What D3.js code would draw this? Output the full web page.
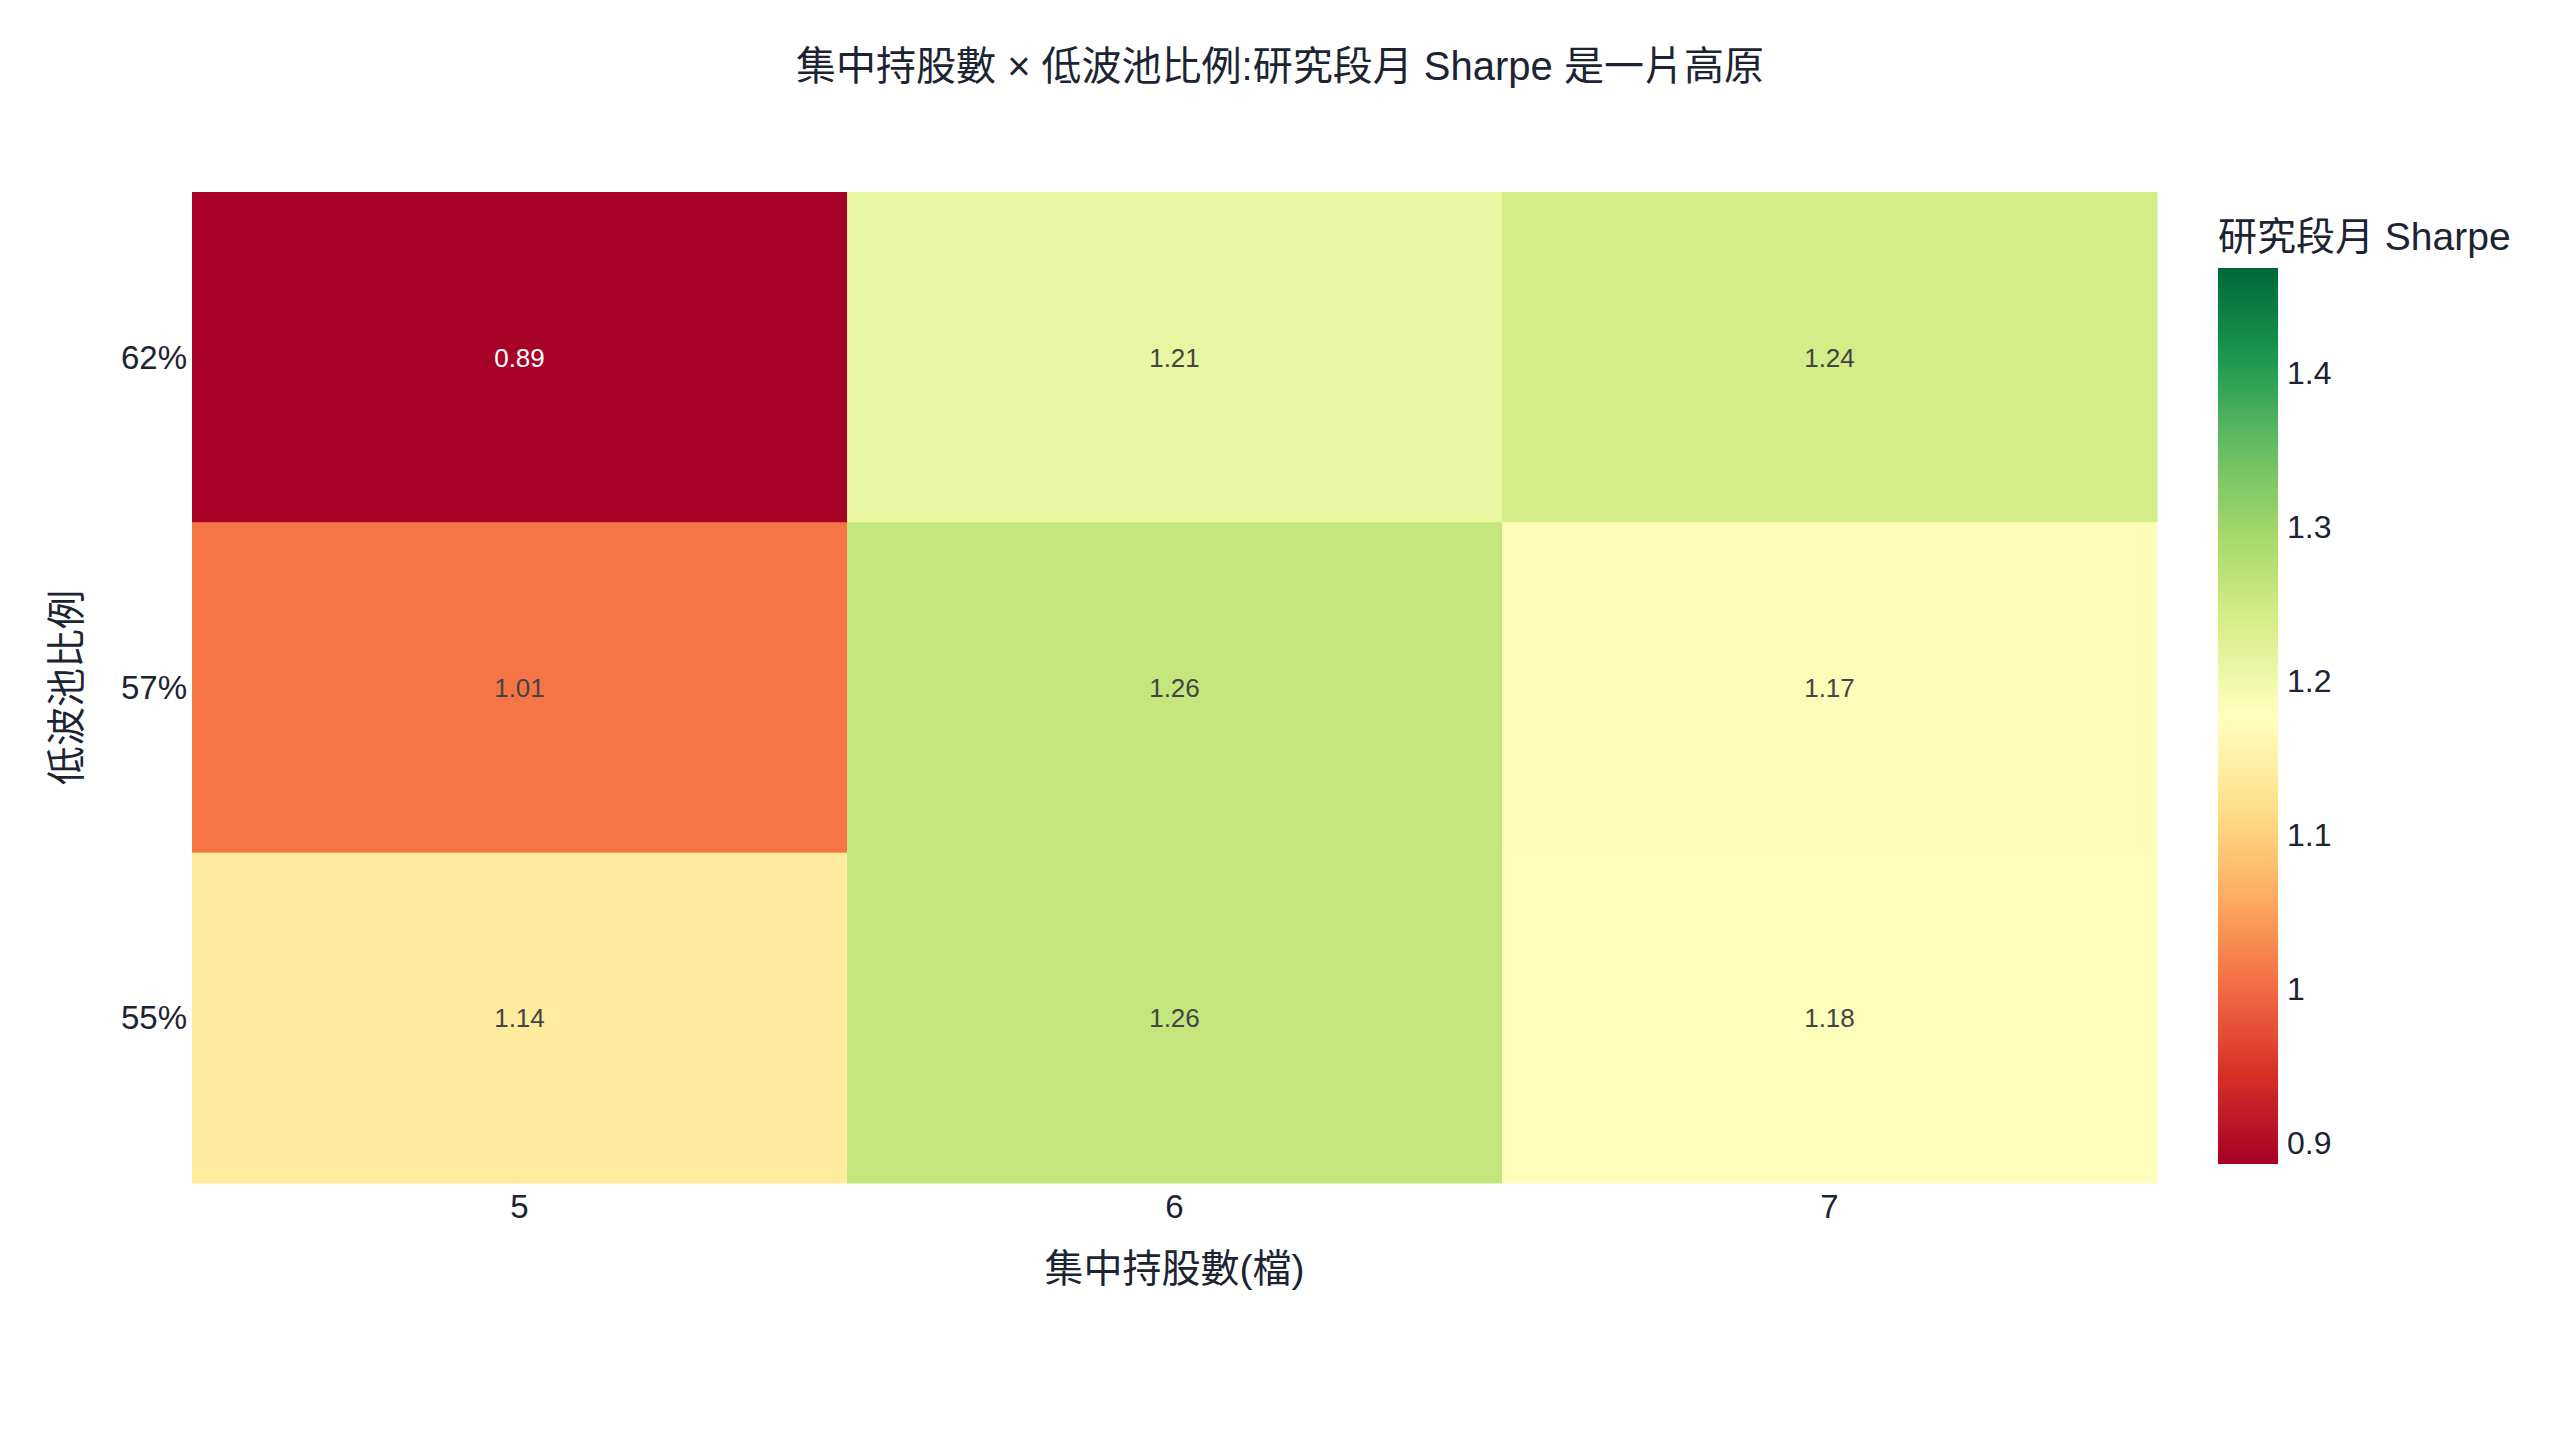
<!DOCTYPE html>
<html>
<head>
<meta charset="utf-8">
<script src="https://cdn.jsdelivr.net/npm/d3@7"></script>
<style>
  body { margin: 0; background: #fff; }
  text { font-family: "Liberation Sans", "Noto Sans CJK TC", sans-serif; }
</style>
</head>
<body>
<div id="chart"></div>
<script>
// data
var holdings = ["5", "6", "7"];
var lowVolRatios = ["62%", "57%", "55%"];
var sharpe62 = [0.89, 1.21, 1.24];
var sharpe57 = [1.01, 1.26, 1.17];
var sharpe55 = [1.14, 1.26, 1.18];
var colorTicks = [0.9, 1, 1.1, 1.2, 1.3, 1.4];
var colorRange = [0.886, 1.468];

var svgWidth = 2560;
var svgHeight = 1440;
var margin = { top: 192, right: 403, bottom: 257, left: 192 };
var width = svgWidth - margin.left - margin.right;
var height = svgHeight - margin.top - margin.bottom;
var ink = "#1c2433";

var svg = d3.select("#chart")
  .append("svg")
  .attr("width", svgWidth)
  .attr("height", svgHeight);

var chartGroup = svg.append("g")
  .attr("transform", `translate(${margin.left}, ${margin.top})`);

// build cells from the rows
var rows = [sharpe62, sharpe57, sharpe55];
var cells = [];
rows.forEach((vals, i) => {
  vals.forEach((v, j) => {
    cells.push({ row: lowVolRatios[i], col: holdings[j], value: v });
  });
});

// RdYlGn scale like plotly's
var rdylgn = ["#a50026", "#d73027", "#f46d43", "#fdae61", "#fee08b", "#ffffbf",
  "#d9ef8b", "#a6d96a", "#66bd63", "#1a9850", "#006837"];
var color = d3.scaleLinear()
  .domain(rdylgn.map((c, i) => colorRange[0] + (colorRange[1] - colorRange[0]) * i / 10))
  .range(rdylgn)
  .interpolate(d3.interpolateRgb)
  .clamp(true);

var xScale = d3.scaleBand().domain(holdings).range([0, width]).padding(0);
var yScale = d3.scaleBand().domain(lowVolRatios).range([0, height]).padding(0);

chartGroup.selectAll("rect.cell")
  .data(cells)
  .enter()
  .append("rect")
  .attr("class", "cell")
  .attr("x", d => xScale(d.col))
  .attr("y", d => yScale(d.row))
  .attr("width", xScale.bandwidth() + 0.5)
  .attr("height", yScale.bandwidth() + 0.5)
  .attr("fill", d => color(d.value));

chartGroup.selectAll("text.cellLabel")
  .data(cells)
  .enter()
  .append("text")
  .attr("class", "cellLabel")
  .attr("x", d => xScale(d.col) + xScale.bandwidth() / 2)
  .attr("y", d => yScale(d.row) + yScale.bandwidth() / 2)
  .attr("dy", "0.36em")
  .attr("text-anchor", "middle")
  .style("font-size", "26px")
  .style("fill", d => d3.hsl(color(d.value)).l < 0.45 ? "#ffffff" : "#444444")
  .text(d => d.value.toFixed(2));

// axes
var xAxis = d3.axisBottom(xScale).tickSize(0).tickPadding(12);
var yAxis = d3.axisLeft(yScale).tickSize(0).tickPadding(5);

var xg = chartGroup.append("g")
  .attr("transform", `translate(0, ${height})`)
  .call(xAxis);
xg.select(".domain").remove();
xg.selectAll("text")
  .style("font-size", "33px")
  .style("fill", ink)
  .attr("dy", "0.71em");

var yg = chartGroup.append("g").call(yAxis);
yg.select(".domain").remove();
yg.selectAll("text")
  .style("font-size", "33px")
  .style("fill", ink)
  .attr("dy", "0.35em");

// axis titles
chartGroup.append("text")
  .attr("x", width / 2)
  .attr("y", height + 99)
  .attr("text-anchor", "middle")
  .style("font-size", "39px")
  .style("fill", ink)
  .text("集中持股數(檔)");

chartGroup.append("text")
  .attr("transform", "rotate(-90)")
  .attr("x", -height / 2)
  .attr("y", -126)
  .attr("dy", "0.35em")
  .attr("text-anchor", "middle")
  .style("font-size", "39px")
  .style("fill", ink)
  .text("低波池比例");

// title
svg.append("text")
  .attr("x", svgWidth / 2)
  .attr("y", 80)
  .attr("text-anchor", "middle")
  .style("font-size", "40px")
  .style("fill", ink)
  .text("集中持股數 × 低波池比例:研究段月 Sharpe 是一片高原");

// colorbar
var cbX = 2218, cbTop = 268, cbBottom = 1164, cbWidth = 60;
var cbScale = d3.scaleLinear().domain(colorRange).range([cbBottom, cbTop]);

var grad = svg.append("defs").append("linearGradient")
  .attr("id", "cbGrad")
  .attr("x1", "0").attr("y1", "1")
  .attr("x2", "0").attr("y2", "0");
d3.range(0, 1.0001, 0.02).forEach(t => {
  grad.append("stop")
    .attr("offset", t)
    .attr("stop-color", color(colorRange[0] + t * (colorRange[1] - colorRange[0])));
});

svg.append("rect")
  .attr("x", cbX)
  .attr("y", cbTop)
  .attr("width", cbWidth)
  .attr("height", cbBottom - cbTop)
  .attr("fill", "url(#cbGrad)");

var cbAxis = d3.axisRight(cbScale)
  .tickValues(colorTicks)
  .tickSize(0)
  .tickPadding(9)
  .tickFormat(d => String(+d.toFixed(1)));

var cbg = svg.append("g")
  .attr("transform", `translate(${cbX + cbWidth}, 0)`)
  .call(cbAxis);
cbg.select(".domain").remove();
cbg.selectAll("text")
  .style("font-size", "32px")
  .style("fill", ink)
  .attr("dy", "0.35em");

svg.append("text")
  .attr("x", cbX)
  .attr("y", 250)
  .style("font-size", "39px")
  .style("fill", ink)
  .text("研究段月 Sharpe");
</script>
</body>
</html>
